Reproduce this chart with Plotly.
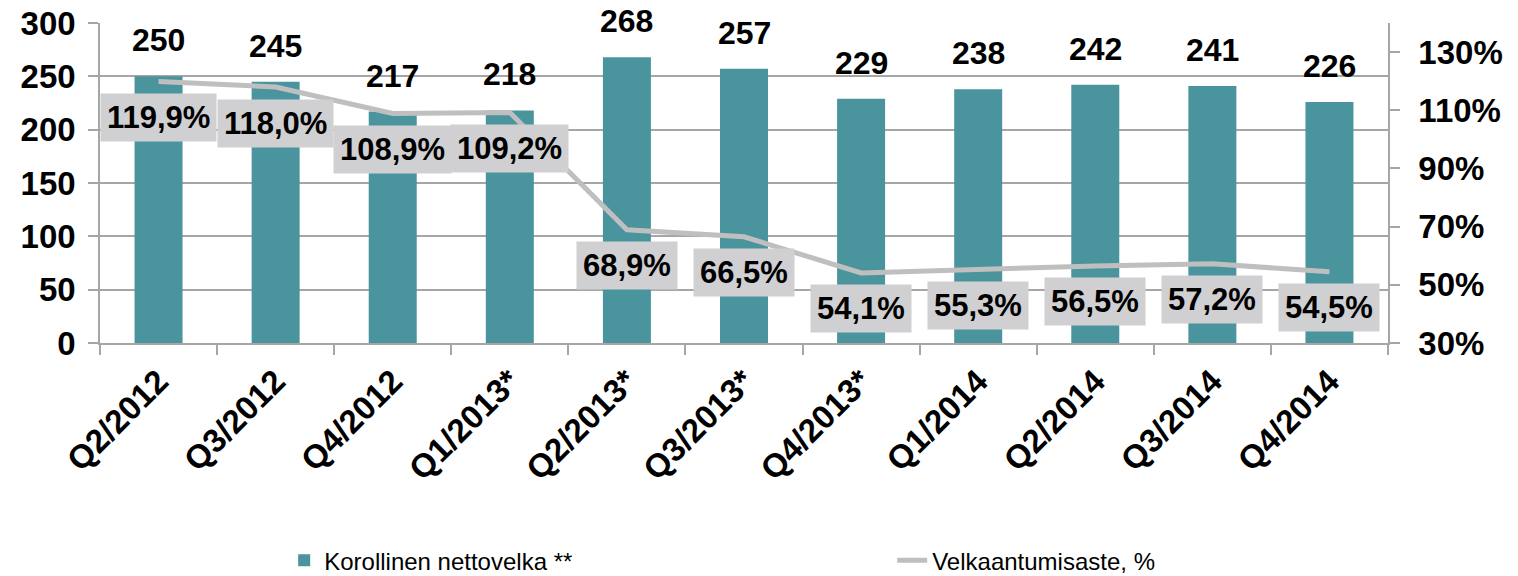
import plotly.graph_objects as go

categories = ["Q2/2012", "Q3/2012", "Q4/2012", "Q1/2013*", "Q2/2013*", "Q3/2013*",
              "Q4/2013*", "Q1/2014", "Q2/2014", "Q3/2014", "Q4/2014"]
net_debt = [250, 245, 217, 218, 268, 257, 229, 238, 242, 241, 226]
gearing = [119.9, 118.0, 108.9, 109.2, 68.9, 66.5, 54.1, 55.3, 56.5, 57.2, 54.5]

bar_name = "Korollinen nettovelka **"
line_name = "Velkaantumisaste, %"

FONT = "Arial, Liberation Sans, sans-serif"
BAR_COLOR = "#4A949E"
LINE_COLOR = "#BFBFBF"
GRID = "#A6A6A6"

fig = go.Figure()
fig.add_trace(go.Bar(x=categories, y=net_debt, name=bar_name, marker_color=BAR_COLOR,
                     width=0.41, marker_line_width=0))
fig.add_trace(go.Scatter(x=categories, y=gearing, name=line_name, yaxis="y2",
                         mode="lines", line=dict(color=LINE_COLOR, width=5)))

annotations = []
for c, v in zip(categories, net_debt):
    annotations.append(dict(x=c, y=v, xref="x", yref="y", text=f"<b>{v}</b>",
                            showarrow=False, yanchor="bottom", yshift=16,
                            font=dict(family=FONT, size=32, color="black")))
for c, v in zip(categories, gearing):
    annotations.append(dict(x=c, y=v, xref="x", yref="y2",
                            text="<b>" + f"{v:.1f}".replace(".", ",") + "%</b>",
                            showarrow=False, yanchor="middle", yshift=-36,
                            bgcolor="#D0D0D2", borderpad=6,
                            font=dict(family=FONT, size=31, color="black")))

tick_font = dict(family=FONT, size=33, color="black", weight="bold")

fig.update_layout(
    width=1518, height=576,
    margin=dict(l=100, r=130, t=23, b=233, autoexpand=False),
    plot_bgcolor="white", paper_bgcolor="white",
    showlegend=True,
    legend=dict(orientation="h", x=0.143, xanchor="left", y=-0.68, yanchor="middle",
                font=dict(family=FONT, size=24, color="black"),
                entrywidth=563, entrywidthmode="pixels", traceorder="normal"),
    annotations=annotations,
    xaxis=dict(type="category", tickangle=-45, showline=True, linecolor=GRID, linewidth=1.5,
               ticks="outside", tickson="boundaries", ticklen=10, tickcolor=GRID, tickwidth=1.5,
               tickfont=dict(family=FONT, size=33, color="black", weight="bold"),
               showgrid=False, ticklabelstandoff=4, automargin=False),
    yaxis=dict(range=[0, 300], dtick=50, showgrid=True, gridcolor=GRID, gridwidth=1.5,
               showline=True, linecolor=GRID, linewidth=1.5, ticks="outside", ticklen=10,
               tickcolor=GRID, tickwidth=1.5, zeroline=False, automargin=False,
               ticklabelstandoff=6, tickfont=tick_font),
    yaxis2=dict(range=[30, 140], tick0=30, dtick=20, overlaying="y", side="right",
                showgrid=False, showline=True, linecolor=GRID, linewidth=1.5,
                ticks="outside", ticklen=10, tickcolor=GRID, tickwidth=1.5, zeroline=False,
                ticksuffix="%", automargin=False, ticklabelstandoff=12, tickfont=tick_font),
)
fig.write_html("out.html", config={"displayModeBar": False},
               post_script="document.body.style.margin='0';document.body.style.overflow='hidden';")
